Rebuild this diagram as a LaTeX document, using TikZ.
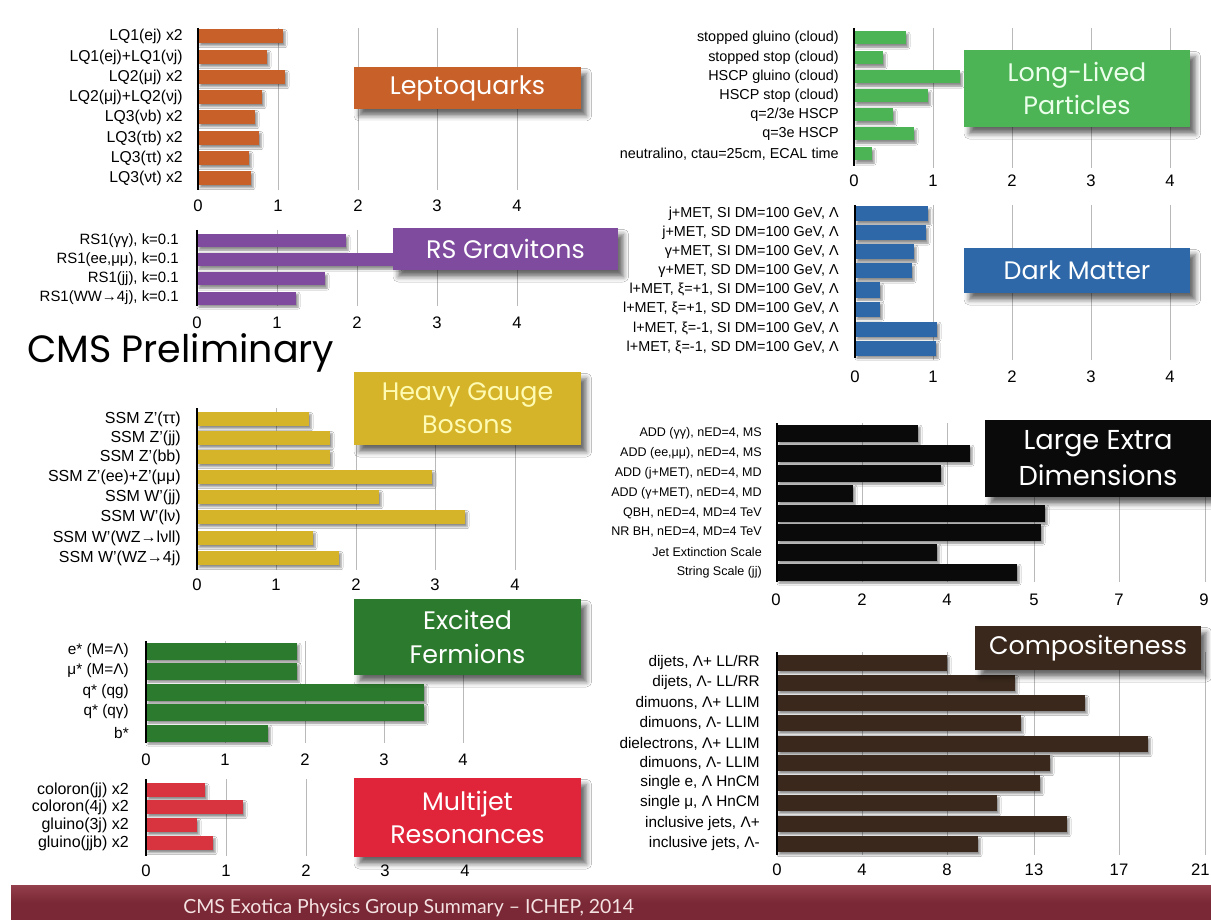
\documentclass[tikz,border=0pt]{standalone}
\usepackage{fontspec}
\setmainfont{Liberation Sans}
\newfontfamily\titlefont{Poppins}
\newfontfamily\footfont{Lato}
\usetikzlibrary{shadows.blur}
\definecolor{cLQ}{HTML}{C8602A}
\definecolor{cLLP}{HTML}{4DB456}
\definecolor{cRS}{HTML}{7E4B9E}
\definecolor{cDM}{HTML}{2E68A8}
\definecolor{cHGB}{HTML}{D5B42A}
\definecolor{cLED}{HTML}{0A0A0A}
\definecolor{cEF}{HTML}{2C7A2E}
\definecolor{cCO}{HTML}{3A281C}
\definecolor{cMJ}{HTML}{D83440}
\definecolor{cMJbox}{HTML}{E0253A}
\definecolor{cFoot}{HTML}{7A2835}
\definecolor{cFootTop}{HTML}{94404C}
\definecolor{cFootText}{HTML}{F4E2E2}
\tikzset{
  grid line/.style={draw=gray!55, line width=0.6pt},
  axis line/.style={draw=black, line width=1.1pt},
  barshadow/.style={blur shadow={shadow xshift=1.5pt, shadow yshift=-2pt, shadow blur radius=1.5pt, shadow opacity=45}},
  rowlabel/.style={anchor=east, inner sep=0pt},
  ticklabel/.style={inner sep=0pt, font=\fontsize{12.5}{12.5}\selectfont},
  titlebox/.style={inner sep=0pt, align=center, text=white,
    font=\titlefont\fontsize{19}{25}\selectfont,
    blur shadow={shadow xshift=4pt, shadow yshift=-5pt, shadow blur radius=4pt, shadow opacity=60}},
}
\begin{document}
\begin{tikzpicture}[x=0.75pt,y=-0.75pt]
\path[use as bounding box, fill=white] (0,0) rectangle (1211,920);

% ---------------- Leptoquarks ----------------
\foreach \x in {278,358,437,517} \draw[grid line] (\x,28) -- (\x,190);
\foreach \y/\e/\t [count=\i] in {36/283/{LQ1(ej) x2}, 57/267/{LQ1(ej)+LQ1(νj)}, 77/285/{LQ2(μj) x2}, 97/262/{LQ2(μj)+LQ2(νj)}, 117/255/{LQ3(νb) x2}, 138/259/{LQ3(τb) x2}, 158/249/{LQ3(τt) x2}, 178/251/{LQ3(νt) x2}} {
  \fill[cLQ, barshadow] (198,\y-7) rectangle (\e,\y+7);
  \node[rowlabel, font=\fontsize{11.8}{12}\selectfont] (lqL\i) at (183,\y) {\t};
}
\draw[axis line] (198,28) -- (198,190);
\foreach \x/\v [count=\i] in {198/0,278/1,358/2,437/3,517/4} \node[ticklabel] (lqT\i) at (\x,206) {\v};
\node[titlebox, fill=cLQ, minimum width=170.25pt, minimum height=31.5pt] (lqbox) at (467.5,88) {Leptoquarks};

% ---------------- Long-Lived Particles ----------------
\foreach \x in {933,1012,1091,1170} \draw[grid line] (\x,28) -- (\x,168);
\foreach \y/\e/\t [count=\i] in {38/906/{stopped gluino (cloud)}, 58/883/{stopped stop (cloud)}, 77/960/{HSCP gluino (cloud)}, 96/928/{HSCP stop (cloud)}, 115/893/{q=2/3e HSCP}, 134/914/{q=3e HSCP}, 154/872/{neutralino, ctau=25cm, ECAL time}} {
  \fill[cLLP, barshadow] (854,\y-6.5) rectangle (\e,\y+6.5);
  \node[rowlabel, font=\fontsize{10.8}{12}\selectfont] (llpL\i) at (839,\y) {\t};
}
\draw[axis line] (854,28) -- (854,166);
\foreach \x/\v [count=\i] in {854/0,933/1,1012/2,1091/3,1170/4} \node[ticklabel] (llpT\i) at (\x,181) {\v};
\node[titlebox, fill=cLLP, text=green!8, minimum width=169.5pt, minimum height=57.75pt] (llpbox) at (1077,88.5) {Long-Lived\\Particles};

% ---------------- RS Gravitons ----------------
\foreach \x in {277,357,437,517} \draw[grid line] (\x,230) -- (\x,306);
\foreach \y/\e/\t [count=\i] in {241/346/{RS1(γγ), k=0.1}, 260/398/{RS1(ee,μμ), k=0.1}, 279/325/{RS1(jj), k=0.1}, 298/296/{RS1(WW→4j), k=0.1}} {
  \fill[cRS, barshadow] (197,\y-6.5) rectangle (\e,\y+6.5);
  \node[rowlabel, font=\fontsize{11.2}{12}\selectfont] (rsL\i) at (179,\y) {\t};
}
\draw[axis line] (197,230) -- (197,306);
\foreach \x/\v [count=\i] in {197/0,277/1,357/2,437/3,517/4} \node[ticklabel] (rsT\i) at (\x,323) {\v};
\node[titlebox, fill=cRS, minimum width=168.75pt, minimum height=31.5pt] (rsbox) at (505.5,249) {RS Gravitons};

\node[anchor=base west, inner sep=0pt, font=\titlefont\fontsize{28.5}{30}\selectfont] (cms) at (27,362) {CMS Preliminary};

% ---------------- Dark Matter ----------------
\foreach \x in {933,1012,1091,1170} \draw[grid line] (\x,205) -- (\x,360);
\foreach \y/\e/\t [count=\i] in {214/928/{j+MET, SI DM=100 GeV, Λ}, 233/926/{j+MET, SD DM=100 GeV, Λ}, 252/914/{γ+MET, SI DM=100 GeV, Λ}, 271/912/{γ+MET, SD DM=100 GeV, Λ}, 290/880/{l+MET, ξ=+1, SI DM=100 GeV, Λ}, 309/880/{l+MET, ξ=+1, SD DM=100 GeV, Λ}, 329/937/{l+MET, ξ=-1, SI DM=100 GeV, Λ}, 348/936/{l+MET, ξ=-1, SD DM=100 GeV, Λ}} {
  \fill[cDM, barshadow] (855,\y-7.5) rectangle (\e,\y+7.5);
  \node[rowlabel, font=\fontsize{10.8}{12}\selectfont] (dmL\i) at (839,\y) {\t};
}
\draw[axis line] (855,205) -- (855,358);
\foreach \x/\v [count=\i] in {855/0,933/1,1012/2,1091/3,1170/4} \node[ticklabel] (dmT\i) at (\x,377) {\v};
\node[titlebox, fill=cDM, minimum width=169.5pt, minimum height=33.75pt] (dmbox) at (1077,270.5) {Dark Matter};

% ---------------- Heavy Gauge Bosons ----------------
\foreach \x in {276,356,435,515} \draw[grid line] (\x,408) -- (\x,570);
\foreach \y/\e/\t [count=\i] in {419/309/{SSM Z'(ττ)}, 438/330/{SSM Z'(jj)}, 457/330/{SSM Z'(bb)}, 477/432/{SSM Z'(ee)+Z'(μμ)}, 497/379/{SSM W'(jj)}, 517/465/{SSM W'(lν)}, 538/313/{SSM W'(WZ→lνll)}, 558/339/{SSM W'(WZ→4j)}} {
  \fill[cHGB, barshadow] (197,\y-7) rectangle (\e,\y+7);
  \node[rowlabel, font=\fontsize{12}{12}\selectfont] (hgL\i) at (181,\y) {\t};
}
\draw[axis line] (197,408) -- (197,570);
\foreach \x/\v [count=\i] in {197/0,276/1,356/2,435/3,515/4} \node[ticklabel] (hgT\i) at (\x,585) {\v};
\node[titlebox, fill=cHGB, text=yellow!30!white, minimum width=170.25pt, minimum height=54.75pt] (hgbox) at (467.5,408.5) {Heavy Gauge\\Bosons};

% ---------------- Large Extra Dimensions ----------------
\foreach \x in {862,947,1034,1119,1205} \draw[grid line] (\x,423) -- (\x,582);
\foreach \y/\e/\t [count=\i] in {433/918/{ADD (γγ), nED=4, MS}, 453/970/{ADD (ee,μμ), nED=4, MS}, 473/941/{ADD (j+MET), nED=4, MD}, 493/853/{ADD (γ+MET), nED=4, MD}, 513/1045/{QBH, nED=4, MD=4 TeV}, 532/1041/{NR BH, nED=4, MD=4 TeV}, 552/937/{Jet Extinction Scale}, 572/1017/{String Scale (jj)}} {
  \fill[cLED, barshadow] (777,\y-8.5) rectangle (\e,\y+8.5);
  \node[rowlabel, font=\fontsize{9.4}{12}\selectfont] (ledL\i) at (762,\y) {\t};
}
\draw[axis line] (777,423) -- (777,582);
\foreach \x/\v [count=\i] in {776/0,862/2,947/4,1034/5,1119/7,1204/9} \node[ticklabel] (ledT\i) at (\x,600) {\v};
\node[titlebox, fill=cLED, font=\titlefont\fontsize{20.5}{27}\selectfont, minimum width=169.5pt, minimum height=57.75pt] (ledbox) at (1098,458.5) {Large Extra\\Dimensions};

% ---------------- Excited Fermions ----------------
\foreach \x in {225,305,384,463} \draw[grid line] (\x,641) -- (\x,743);
\foreach \y/\e/\t [count=\i] in {651/297/{e* (M=Λ)}, 671/297/{μ* (M=Λ)}, 692/424/{q* (qg)}, 712/424/{q* (qγ)}, 733/268/{b*}} {
  \fill[cEF, barshadow] (146,\y-8.5) rectangle (\e,\y+8.5);
  \node[rowlabel, font=\fontsize{11.5}{12}\selectfont] (efL\i) at (129,\y) {\t};
}
\draw[axis line] (146,641) -- (146,743);
\foreach \x/\v [count=\i] in {146/0,225/1,305/2,384/3,463/4} \node[ticklabel] (efT\i) at (\x,760) {\v};
\node[titlebox, fill=cEF, minimum width=170.25pt, minimum height=57pt] (efbox) at (467.5,637) {Excited\\Fermions};

% ---------------- Compositeness ----------------
\foreach \x in {862,947,1034,1119,1205} \draw[grid line] (\x,652) -- (\x,855);
\foreach \y/\e/\t [count=\i] in {663/947/{dijets, Λ+ LL/RR}, 683/1015/{dijets, Λ- LL/RR}, 703/1085/{dimuons, Λ+ LLIM}, 723/1021/{dimuons, Λ- LLIM}, 744/1148/{dielectrons, Λ+ LLIM}, 763/1050/{dimuons, Λ- LLIM}, 783/1040/{single e,  Λ HnCM}, 803/997/{single μ, Λ HnCM}, 824/1067/{inclusive jets, Λ+}, 844/978/{inclusive jets, Λ-}} {
  \fill[cCO, barshadow] (777,\y-8) rectangle (\e,\y+8);
  \node[rowlabel, font=\fontsize{11.5}{12}\selectfont] (coL\i) at (760,\y) {\t};
}
\draw[axis line] (777,652) -- (777,855);
\foreach \x/\v [count=\i] in {777/0,862/4,947/8,1034/13,1119/17} \node[ticklabel] (coT\i) at (\x,870) {\v};
\node[ticklabel, anchor=east] (coT6) at (1210,870) {21};
\node[titlebox, fill=cCO, minimum width=169.5pt, minimum height=33pt] (cobox) at (1088,648) {Compositeness};

% ---------------- Multijet Resonances ----------------
\foreach \x in {226,306,385,465} \draw[grid line] (\x,779) -- (\x,856);
\foreach \y/\e/\t [count=\i] in {790/205/{coloron(jj) x2}, 807/243/{coloron(4j) x2}, 825/197/{gluino(3j) x2}, 843/213/{gluino(jjb) x2}} {
  \fill[cMJ, barshadow] (146,\y-7) rectangle (\e,\y+7);
  \node[rowlabel, font=\fontsize{12}{12}\selectfont] (mjL\i) at (129,\y) {\t};
}
\draw[axis line] (146,779) -- (146,856);
\foreach \x/\v [count=\i] in {146/0,226/1,306/2,385/3,465/4} \node[ticklabel] (mjT\i) at (\x,871) {\v};
\node[titlebox, fill=cMJbox, minimum width=170.25pt, minimum height=59.25pt] (mjbox) at (467.5,817.5) {Multijet\\Resonances};

% ---------------- Footer ----------------
\shade[top color=cFootTop, bottom color=cFoot, middle color=cFoot] (11,885) rectangle (1211,920);
\node[anchor=base west, inner sep=0pt, text=cFootText, font=\footfont\fontsize{14.6}{15}\selectfont] (foot) at (183,913) {CMS Exotica Physics Group Summary – ICHEP, 2014};
\end{tikzpicture}
\end{document}
